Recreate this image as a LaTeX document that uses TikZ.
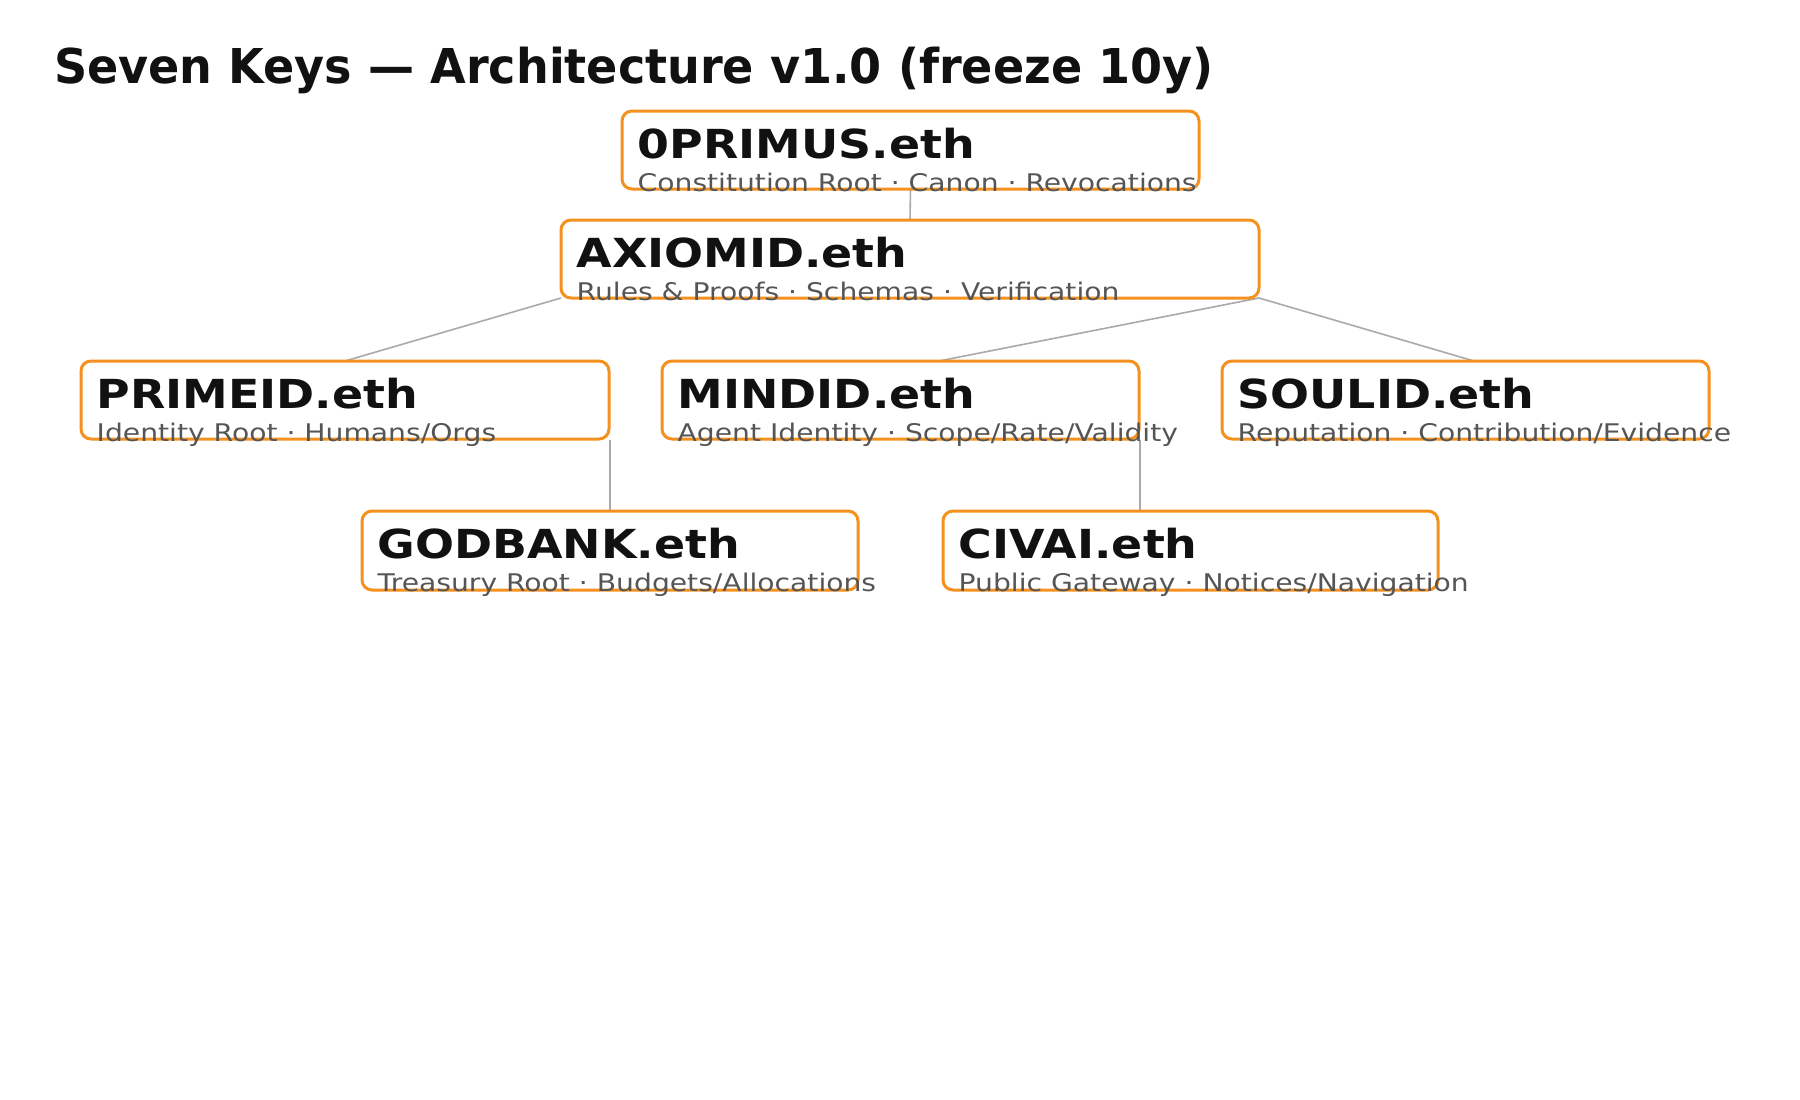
\documentclass[tikz,border=0pt]{standalone}
\usepackage{fontspec}
\setmainfont{DejaVu Sans}
\newfontfamily\keyfont[FakeStretch=1.147,BoldFont=DejaVu Sans Bold]{DejaVu Sans}
\newfontfamily\subfont[FakeStretch=1.16]{DejaVu Sans}
\newfontfamily\headfont[FakeStretch=0.96,BoldFont=DejaVu Sans Bold]{DejaVu Sans}
\usetikzlibrary{calc}
\definecolor{keyorange}{RGB}{245,145,30}
\definecolor{linkgray}{RGB}{170,170,170}
\definecolor{subgray}{RGB}{85,85,85}
\definecolor{namecol}{RGB}{17,17,17}
\begin{document}
\begin{tikzpicture}[x=1pt,y=-1pt,
  keybox/.style={draw=keyorange,line width=3pt,rounded corners=10pt,inner sep=0pt},
  link/.style={draw=linkgray,line width=1.6pt},
  keyname/.style={anchor=base west,inner sep=0pt,text=namecol,font=\keyfont\fontsize{40}{46}\selectfont\bfseries},
  keysub/.style={anchor=base west,inner sep=0pt,text=subgray,font=\subfont\fontsize{24.3}{28}\selectfont},
  titletext/.style={anchor=base west,inner sep=0pt,text=namecol,font=\headfont\fontsize{48}{54}\selectfont\bfseries}]
\useasboundingbox[fill=white] (0,0) rectangle (1800,1100);
\newcommand{\keynode}[7]{%
  \path[keybox] (#2,#3) rectangle (#4,#5);
  \coordinate (#1-nw) at (#2,#3);
  \coordinate (#1-se) at (#4,#5);
  \node[keyname] (#1-name) at (#2+15.5,#3+47) {#6};
  \node[keysub] (#1-sub) at (#2+15.5,#3+80) {#7};
}
\node[titletext] (title) at (54,83) {Seven Keys — Architecture v1.0 (freeze 10y)};
% connectors
\coordinate (p0s) at (910.5,189);
\coordinate (axn) at (910,220);
\draw[link] (p0s) -- (axn);
\coordinate (axsw) at (561,298);
\coordinate (axse) at (1259,298);
\coordinate (prn) at (345,361);
\coordinate (min) at (939,361);
\coordinate (son) at (1474,361);
\draw[link] (axsw) -- (prn);
\draw[link] (axse) -- (min);
\draw[link] (axse) -- (son);
\coordinate (prb) at (610,440);
\coordinate (gbt) at (610,511);
\coordinate (mib) at (1140,440);
\coordinate (cvt) at (1140,511);
\draw[link] (prb) -- (gbt);
\draw[link] (mib) -- (cvt);
% boxes
\keynode{p0}{622}{111}{1199}{189}{0PRIMUS.eth}{Constitution Root · Canon · Revocations}
\keynode{ax}{561}{220}{1259}{298}{AXIOMID.eth}{Rules \& Proofs · Schemas · Verification}
\keynode{pr}{81}{361}{609}{439}{PRIMEID.eth}{Identity Root · Humans/Orgs}
\keynode{mi}{662}{361}{1139}{439}{MINDID.eth}{Agent Identity · Scope/Rate/Validity}
\keynode{so}{1222}{361}{1709}{439}{SOULID.eth}{Reputation · Contribution/Evidence}
\keynode{gb}{362}{511}{858}{590}{GODBANK.eth}{Treasury Root · Budgets/Allocations}
\keynode{cv}{943}{511}{1438}{590}{CIVAI.eth}{Public Gateway · Notices/Navigation}
\end{tikzpicture}
\end{document}
